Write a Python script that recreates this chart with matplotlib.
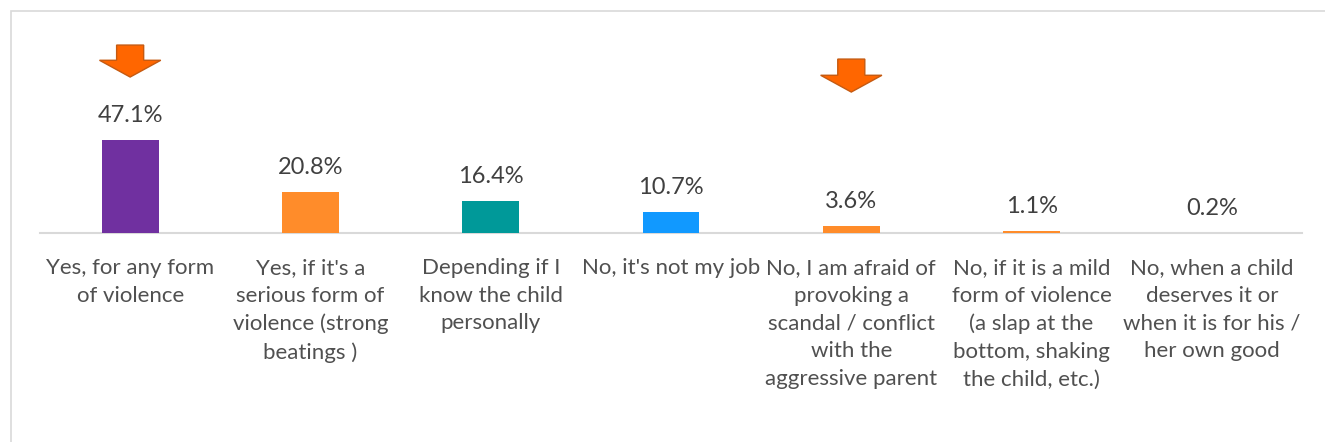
import matplotlib.pyplot as plt
from matplotlib.patches import FancyArrow, Rectangle

plt.rcParams['font.family'] = ['Lato', 'DejaVu Sans']

categories = [
    "Yes, for any form\nof violence",
    "Yes, if it's a\nserious form of\nviolence (strong\nbeatings )",
    "Depending if I\nknow the child\npersonally",
    "No, it's not my job",
    "No, I am afraid of\nprovoking a\nscandal / conflict\nwith the\naggressive parent",
    "No, if it is a mild\nform of violence\n(a slap at the\nbottom, shaking\nthe child, etc.)",
    "No, when a child\ndeserves it or\nwhen it is for his /\nher own good",
]
values = [47.1, 20.8, 16.4, 10.7, 3.6, 1.1, 0.2]
colors = ['#7030A0', '#FF8C2A', '#009999', '#1199FF', '#FF8C2A', '#FF8C2A', '#FF8C2A']
# highlighted bars get an arrow: (bar index, arrow top, arrow tip) in data units
arrow_bars = [0, 4]
arrow_tops = [95.2, 88.1]
arrow_tips = [79.0, 71.4]

fig = plt.figure(figsize=(13.25, 4.42), dpi=100)
ax = fig.add_axes([40 / 1325, 1 - 233 / 442, 1262 / 1325, 213 / 442])

# outer chart frame
fig.patches.append(Rectangle((11 / 1325, -0.1), 1.2, 1 - 11 / 442 + 0.1,
                             transform=fig.transFigure, fill=False,
                             edgecolor='#D9D9D9', linewidth=1.2))

x = list(range(len(values)))
bars = ax.bar(x, values, width=0.316, color=colors, zorder=3)

for b, v in zip(bars, values):
    ax.annotate(f"{v}%", (b.get_x() + b.get_width() / 2, v),
                xytext=(0, 10), textcoords='offset points',
                ha='center', va='bottom', fontsize=17, color='#404040')

for i, top, tip in zip(arrow_bars, arrow_tops, arrow_tips):
    ax.add_patch(FancyArrow(i, top, 0, tip - top, width=0.15, head_width=0.34,
                            head_length=8.5, length_includes_head=True,
                            facecolor='#FF6600', edgecolor='#C55A11',
                            linewidth=1.0, zorder=4))

ax.set_xlim(-0.5, len(values) - 0.5)
ax.set_ylim(0, 107.9)
ax.set_xticks(x)
ax.set_xticklabels(categories, fontsize=16, color='#505050',
                   multialignment='center', linespacing=1.48)
ax.tick_params(axis='x', length=0, pad=18)
ax.set_yticks([])
for s in ['top', 'right', 'left']:
    ax.spines[s].set_visible(False)
ax.spines['bottom'].set_color('#D9D9D9')
ax.spines['bottom'].set_linewidth(1.5)
ax.spines['bottom'].set_zorder(2)

fig.savefig('out.png', dpi=100)
